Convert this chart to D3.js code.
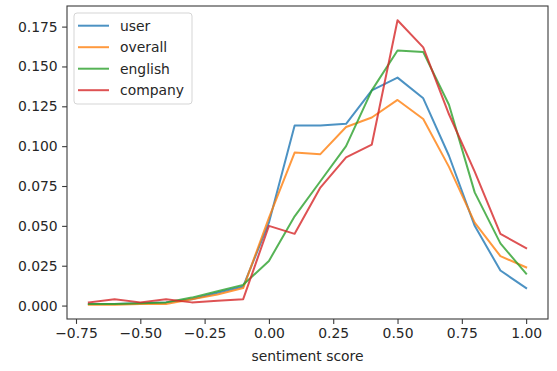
<!DOCTYPE html>
<html>
<head>
<meta charset="utf-8">
<script src="https://cdn.jsdelivr.net/npm/d3@7"></script>
<style>
    body { margin: 0; background: #fff; }
    svg { display: block; font-family: "DejaVu Sans", sans-serif; }
</style>
</head>
<body>
<svg id="chart" width="557" height="371"></svg>
<script>
// Data
const scores = [-0.7, -0.6, -0.5, -0.4, -0.3, -0.2, -0.1, 0.0, 0.1, 0.2, 0.3, 0.4, 0.5, 0.6, 0.7, 0.8, 0.9, 1.0];
const seriesNames = ['user', 'overall', 'english', 'company'];
const userValues    = [0.001, 0.001, 0.0015, 0.002, 0.004, 0.008, 0.012, 0.052, 0.113, 0.113, 0.114, 0.135, 0.143, 0.130, 0.094, 0.050, 0.022, 0.011];
const overallValues = [0.0005, 0.0005, 0.001, 0.001, 0.004, 0.007, 0.011, 0.055, 0.096, 0.095, 0.112, 0.118, 0.129, 0.117, 0.087, 0.052, 0.031, 0.024];
const englishValues = [0.001, 0.001, 0.0015, 0.002, 0.005, 0.009, 0.013, 0.028, 0.056, 0.078, 0.100, 0.135, 0.160, 0.159, 0.126, 0.071, 0.039, 0.020];
const companyValues = [0.002, 0.004, 0.002, 0.004, 0.002, 0.003, 0.004, 0.050, 0.045, 0.074, 0.093, 0.101, 0.179, 0.162, 0.120, 0.084, 0.045, 0.036];
const xTicks = [-0.75, -0.5, -0.25, 0, 0.25, 0.5, 0.75, 1.0];
const yTicks = [0, 0.025, 0.05, 0.075, 0.1, 0.125, 0.15, 0.175];
const xLabel = 'sentiment score';

const COLORS = ['#1f77b4', '#ff7f0e', '#2ca02c', '#d62728'];
const FONT_SIZE = 13.9;

const series = [userValues, overallValues, englishValues, companyValues].map((values, i) => ({
    name: seriesNames[i],
    color: COLORS[i],
    points: values.map((v, j) => ({ x: scores[j], y: v }))
}));

// Axes box
const box = { left: 67, right: 548, top: 6, bottom: 319 };
const svg = d3.select('#chart');

// matplotlib-like 5% margins
function padded(extent) {
    let m = (extent[1] - extent[0]) * 0.05;
    return [extent[0] - m, extent[1] + m];
}
const allValues = [].concat(userValues, overallValues, englishValues, companyValues);

const xScale = d3.scaleLinear().domain(padded(d3.extent(scores))).range([box.left, box.right]);
const yScale = d3.scaleLinear().domain(padded(d3.extent(allValues))).range([box.bottom, box.top]);

const minusFmt = (f) => (d) => d3.format(f)(d).replace('-', '\u2212');

// X axis
const gx = svg.append('g')
    .attr('transform', 'translate(0,' + box.bottom + ')')
    .call(d3.axisBottom(xScale).tickValues(xTicks).tickFormat(minusFmt('.2f')).tickSize(4.9).tickPadding(4.4).tickSizeOuter(0));
// Y axis
const gy = svg.append('g')
    .attr('transform', 'translate(' + box.left + ',0)')
    .call(d3.axisLeft(yScale).tickValues(yTicks).tickFormat(d3.format('.3f')).tickSize(4.9).tickPadding(4.4).tickSizeOuter(0));

[gx, gy].forEach((g) => {
    g.select('.domain').remove();
    g.selectAll('.tick line').attr('stroke', '#3a3a3a').attr('stroke-width', 1.1);
    g.selectAll('.tick text').attr('fill', '#262626').attr('font-size', FONT_SIZE).attr('font-family', '"DejaVu Sans", sans-serif');
});

// Lines
const line = d3.line().x((d) => xScale(d.x)).y((d) => yScale(d.y));
svg.append('g').attr('class', 'lines')
    .selectAll('path')
    .data(series)
    .enter().append('path')
    .attr('d', (s) => line(s.points))
    .attr('fill', 'none')
    .attr('stroke', (s) => s.color)
    .attr('stroke-opacity', 0.8)
    .attr('stroke-width', 2)
    .attr('stroke-linejoin', 'round')
    .attr('stroke-linecap', 'square');

// Spines
svg.append('rect')
    .attr('x', box.left).attr('y', box.top)
    .attr('width', box.right - box.left).attr('height', box.bottom - box.top)
    .attr('fill', 'none').attr('stroke', '#3a3a3a').attr('stroke-width', 1.1);

// X label
svg.append('text')
    .attr('x', (box.left + box.right) / 2)
    .attr('y', 361)
    .attr('text-anchor', 'middle')
    .attr('font-size', FONT_SIZE)
    .attr('fill', '#262626')
    .text(xLabel);

// Legend
const legend = svg.append('g').attr('transform', 'translate(74,13)');
legend.append('rect')
    .attr('width', 118).attr('height', 91)
    .attr('rx', 3).attr('ry', 3)
    .attr('fill', '#fff').attr('fill-opacity', 0.8)
    .attr('stroke', '#d5d5d5').attr('stroke-width', 1);
const items = legend.selectAll('g.item')
    .data(series)
    .enter().append('g')
    .attr('class', 'item')
    .attr('transform', (s, i) => 'translate(0,' + (12.7 + i * 21.5) + ')');
items.append('line')
    .attr('x1', 4).attr('x2', 35)
    .attr('stroke', (s) => s.color)
    .attr('stroke-opacity', 0.8)
    .attr('stroke-width', 2);
items.append('text')
    .attr('x', 46)
    .attr('dy', '0.35em')
    .attr('font-size', FONT_SIZE)
    .attr('fill', '#262626')
    .text((s) => s.name);
</script>
</body>
</html>
